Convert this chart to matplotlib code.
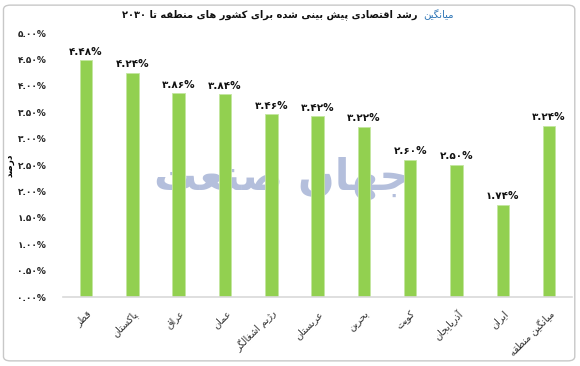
import re
import matplotlib.pyplot as plt
from matplotlib.patches import FancyBboxPatch

# forms: isolated, final, initial, medial
FORMS = {
    'ا': ('\uFE8D', '\uFE8E', None, None),
    'آ': ('\uFE81', '\uFE82', None, None),
    'ب': ('\uFE8F', '\uFE90', '\uFE91', '\uFE92'),
    'پ': ('\uFB56', '\uFB57', '\uFB58', '\uFB59'),
    'ت': ('\uFE95', '\uFE96', '\uFE97', '\uFE98'),
    'ج': ('\uFE9D', '\uFE9E', '\uFE9F', '\uFEA0'),
    'ح': ('\uFEA1', '\uFEA2', '\uFEA3', '\uFEA4'),
    'د': ('\uFEA9', '\uFEAA', None, None),
    'ذ': ('\uFEAB', '\uFEAC', None, None),
    'ر': ('\uFEAD', '\uFEAE', None, None),
    'ز': ('\uFEAF', '\uFEB0', None, None),
    'ژ': ('\uFB8A', '\uFB8B', None, None),
    'س': ('\uFEB1', '\uFEB2', '\uFEB3', '\uFEB4'),
    'ش': ('\uFEB5', '\uFEB6', '\uFEB7', '\uFEB8'),
    'ص': ('\uFEB9', '\uFEBA', '\uFEBB', '\uFEBC'),
    'ط': ('\uFEC1', '\uFEC2', '\uFEC3', '\uFEC4'),
    'ع': ('\uFEC9', '\uFECA', '\uFECB', '\uFECC'),
    'غ': ('\uFECD', '\uFECE', '\uFECF', '\uFED0'),
    'ق': ('\uFED5', '\uFED6', '\uFED7', '\uFED8'),
    'ک': ('\uFB8E', '\uFB8F', '\uFB90', '\uFB91'),
    'گ': ('\uFB92', '\uFB93', '\uFB94', '\uFB95'),
    'ل': ('\uFEDD', '\uFEDE', '\uFEDF', '\uFEE0'),
    'م': ('\uFEE1', '\uFEE2', '\uFEE3', '\uFEE4'),
    'ن': ('\uFEE5', '\uFEE6', '\uFEE7', '\uFEE8'),
    'ه': ('\uFEE9', '\uFEEA', '\uFEEB', '\uFEEC'),
    'و': ('\uFEED', '\uFEEE', None, None),
    'ی': ('\uFBFC', '\uFBFD', '\uFBFE', '\uFBFF'),
}


def fa(s):
    out = []
    for i, c in enumerate(s):
        if c not in FORMS:
            out.append(c)
            continue
        p = s[i - 1] if i > 0 else ''
        n = s[i + 1] if i + 1 < len(s) else ''
        jp = p in FORMS and FORMS[p][2] is not None
        jn = n in FORMS and FORMS[c][2] is not None
        f = FORMS[c]
        if jp and jn:
            out.append(f[3])
        elif jp:
            out.append(f[1])
        elif jn:
            out.append(f[2])
        else:
            out.append(f[0])
    vis = ''.join(out)[::-1]
    return re.sub('[۰-۹.%]+', lambda m: m.group(0)[::-1], vis)


def fa_num(v):
    s = '%.2f%%' % v
    return s.translate(str.maketrans('0123456789', '۰۱۲۳۴۵۶۷۸۹'))


countries = ['قطر', 'پاکستان', 'عراق', 'عمان', 'رژیم اشغالگر', 'عربستان',
             'بحرین', 'کویت', 'آذربایجان', 'ایران', 'میانگین منطقه']
growth = [4.48, 4.24, 3.86, 3.84, 3.46, 3.42, 3.22, 2.60, 2.50, 1.74, 3.24]
yticks = [0, 0.5, 1, 1.5, 2, 2.5, 3, 3.5, 4, 4.5, 5]

plt.rcParams['font.family'] = ['DejaVu Sans']

fig = plt.figure(figsize=(5.8, 3.66), dpi=100)
frame = FancyBboxPatch((0.006, 0.014), 0.985, 0.972, boxstyle='round,pad=0,rounding_size=0.012',
                       transform=fig.transFigure, facecolor='none', edgecolor='#c8c8c8', lw=1, zorder=-1)
fig.patches.append(frame)

ax = fig.add_axes([0.1086, 0.1885, 0.878, 0.7213])
ax.patch.set_alpha(0)

# watermark
ax.text(0.43, 0.45, fa('جهان صنعت'), transform=ax.transAxes, fontsize=31, fontweight='bold',
        color='#b4bfdc', ha='center', va='center', zorder=0)

x = list(range(len(countries)))
ax.bar(x, growth, width=0.27, color='#92d050', edgecolor='#c4e6a0', lw=0.6, zorder=2)
for i, v in zip(x, growth):
    ax.text(i, v + 0.07, fa_num(v), ha='center', va='bottom', fontsize=7.5, fontweight='bold', color='#111111')

ax.set_xlim(-0.5, len(countries) - 0.5)
ax.set_ylim(0, 5)
ax.set_yticks(yticks)
ax.set_yticklabels([fa_num(t) for t in yticks], fontsize=6.5, fontweight='bold', color='#222222')
ax.set_xticks(x)
ax.set_xticklabels([fa(c) for c in countries], rotation=45, ha='right', va='top',
                   rotation_mode='anchor', fontsize=7, color='#333333')
ax.tick_params(axis='both', length=0)
ax.tick_params(axis='y', pad=12)
ax.tick_params(axis='x', pad=8)
for s in ['top', 'right', 'left']:
    ax.spines[s].set_visible(False)
ax.spines['bottom'].set_color('#d9d9d9')
ax.spines['bottom'].set_linewidth(1.2)
ax.set_ylabel(fa('درصد'), fontsize=6.5, fontweight='bold', labelpad=2)

fig.text(0.72, 0.96, fa('رشد اقتصادی پیش بینی شده برای کشور های منطقه تا ۲۰۳۰'), ha='right', va='center',
         fontsize=7.1, fontweight='bold', color='#111111')
fig.text(0.73, 0.96, fa('میانگین'), ha='left', va='center', fontsize=7.3, color='#2e75b6')

fig.savefig('out.png', dpi=100)
